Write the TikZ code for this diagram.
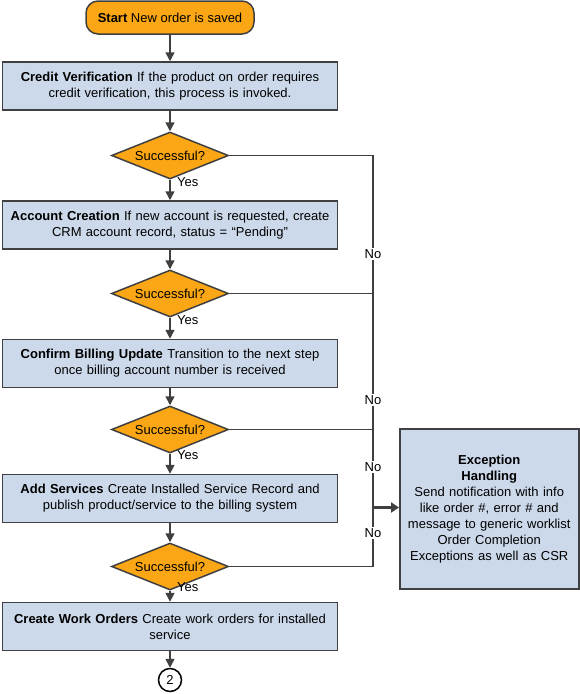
\documentclass[tikz,border=0pt]{standalone}
\usepackage{fontspec}
\setmainfont{Liberation Sans}
\usetikzlibrary{shapes.geometric,arrows.meta}
\definecolor{orng}{HTML}{FBA614}
\definecolor{boxblue}{HTML}{CCD9EA}
\definecolor{lin}{HTML}{404040}
\begin{document}
\begin{tikzpicture}[x=1pt,y=-1pt,
  every node/.style={font=\fontsize{13}{16}\selectfont, text=black},
  proc/.style={draw=lin, line width=1.5pt, fill=boxblue, minimum width=335pt, minimum height=48pt, align=center, text width=328pt, inner sep=0pt},
  dec/.style={diamond, draw=lin, line width=1.5pt, fill=orng, minimum width=117pt, minimum height=47pt, aspect=2.5, inner sep=0pt},
  startbox/.style={draw=lin, line width=1.5pt, fill=orng, rounded corners=12pt, minimum width=168pt, minimum height=33pt},
  conn/.style={draw=lin, line width=1.5pt, -{Triangle[length=9pt,width=9pt]}},
  boldconn/.style={draw=lin, line width=2.6pt, -{Triangle[length=8pt,width=10pt]}},
  ln/.style={draw=lin, line width=1.5pt},
  lbl/.style={inner sep=1pt},
  nolbl/.style={fill=white, inner sep=1.5pt}]
\useasboundingbox (0,0) rectangle (579,694);
\node[startbox] (start) at (170,17.5) {\textbf{Start} New order is saved};
\node[proc] (cv) at (170,86) {\textbf{Credit Verification} If the product on order requires\\credit verification, this process is invoked.};
\node[dec] (d1) at (170,155.5) {Successful?};
\node[proc] (ac) at (170,225) {\textbf{Account Creation} If new account is requested, create\\CRM account record, status = “Pending”};
\node[dec] (d2) at (170,293.5) {Successful?};
\node[proc] (cb) at (170,363.5) {\textbf{Confirm Billing Update} Transition to the next step\\once billing account number is received};
\node[dec] (d3) at (170,429.5) {Successful?};
\node[proc] (as) at (170,498.5) {\textbf{Add Services} Create Installed Service Record and\\publish product/service to the billing system};
\node[dec] (d4) at (170,566.5) {Successful?};
\node[proc] (wo) at (170,626.5) {\textbf{Create Work Orders} Create work orders for installed\\service};
\node[circle, draw=black, line width=1.5pt, fill=white, minimum size=23pt, inner sep=0pt] (c2) at (170,680) {2};
\node[draw=lin, line width=1.5pt, fill=boxblue, minimum width=179pt, minimum height=160pt, inner sep=0pt, anchor=north west] (exc) at (399,428) {};
\node[align=center, anchor=north, text width=172pt, inner sep=0pt] (exctxt) at ([yshift=-27pt]exc.north) {\textbf{Exception}\\\textbf{Handling}\\Send notification with info\\like order \#, error \# and\\message to generic worklist\\Order Completion\\Exceptions as well as CSR};
\draw[conn] (start) -- (cv);
\draw[conn] (cv) -- (d1);
\draw[conn] (d1) -- (ac);
\draw[conn] (ac) -- (d2);
\draw[conn] (d2) -- (cb);
\draw[conn] (cb) -- (d3);
\draw[conn] (d3) -- (as);
\draw[conn] (as) -- (d4);
\draw[conn] (d4) -- (wo);
\draw[conn] (wo) -- (c2);
\node[lbl, anchor=north west] (y1) at (176,176) {Yes};
\node[lbl, anchor=north west] (y2) at (176,314) {Yes};
\node[lbl, anchor=north west] (y3) at (176,449) {Yes};
\node[lbl, anchor=north west] (y4) at (176,581) {Yes};
\coordinate (j1) at (373,155.5);
\coordinate (j2) at (373,293.5);
\coordinate (j3) at (373,429.5);
\coordinate (ja) at (373,507.5);
\coordinate (j4) at (373,566.5);
\draw[ln] (d1.east) -- (j1) -- (j4) -- (d4.east);
\draw[ln] (d2.east) -- (j2);
\draw[ln] (d3.east) -- (j3);
\draw[boldconn] (ja) -- (exc.west |- ja);
\node[nolbl] (n1) at (373,254) {No};
\node[nolbl] (n2) at (373,400) {No};
\node[nolbl] (n3) at (373,467) {No};
\node[nolbl] (n4) at (373,533) {No};
\end{tikzpicture}
\end{document}
